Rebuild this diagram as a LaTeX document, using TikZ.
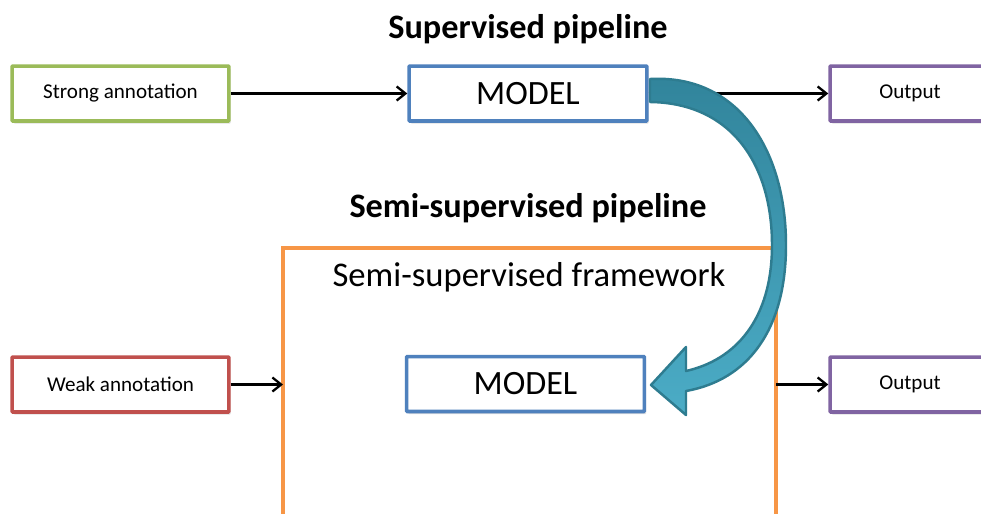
\documentclass[tikz,border=0pt]{standalone}
\usepackage{fontspec}
\setmainfont{Carlito}
\usetikzlibrary{arrows.meta,shadows}
\definecolor{cgreen}{HTML}{9BBB59}
\definecolor{cblue}{HTML}{4F81BD}
\definecolor{cpurple}{HTML}{8064A2}
\definecolor{cred}{HTML}{C0504D}
\definecolor{corange}{HTML}{F79646}
\definecolor{tealdark}{HTML}{31849B}
\definecolor{teallight}{HTML}{4BACC6}
\definecolor{tealedge}{HTML}{2E7C90}
\tikzset{
  px/.style={x=0.02cm,y=-0.02cm},
  box/.style={draw, line width=2pt, fill=white, text=black, rounded corners=0.5pt, inner sep=0pt,
    drop shadow={shadow xshift=1pt,shadow yshift=-1.5pt,opacity=0.25}},
  smallbox/.style={box, minimum width=4.34cm, minimum height=1.1cm, font=\fontsize{12pt}{14pt}\selectfont},
  modelbox/.style={box, draw=cblue, minimum width=4.76cm, minimum height=1.1cm, font=\fontsize{19.4pt}{22pt}\selectfont},
  outbox/.style={box, draw=cpurple, minimum width=3.2cm, minimum height=1.1cm, font=\fontsize{12pt}{14pt}\selectfont},
  title/.style={font=\bfseries\fontsize{19.5pt}{22pt}\selectfont},
  conn/.style={-{Straight Barb[length=5pt,width=8pt,line width=1.3pt]}, line width=1.8pt, black},
}
\begin{document}
\begin{tikzpicture}[px]
\useasboundingbox (0,0) rectangle (981,514);
\clip (0,0) rectangle (981,514);
\fill[white] (0,0) rectangle (981,514);

% titles
\node[title] (t1) at (528,29) {Supervised pipeline};
\node[title] (t2) at (528,208) {Semi-supervised pipeline};

% top row
\node[smallbox, draw=cgreen] (strong) at (120.5,93.5) {Strong annotation};
\node[modelbox] (m1) at (528,93.5) {MODEL};
\node[outbox] (o1) at (910,93.5) {Output};
\draw[conn] (strong.east) -- (m1.west);
\draw[conn] (m1.east) -- (o1.west);

% framework
\coordinate (fbl) at (283,520);
\coordinate (ftl) at (283,248);
\coordinate (ftr) at (776,248);
\coordinate (fbr) at (776,520);
\draw[corange, line width=2pt] (fbl) -- (ftl) -- (ftr) -- (fbr);
\node[font=\fontsize{19.7pt}{22pt}\selectfont] (fl) at (529,277) {Semi-supervised framework};
\coordinate (fin) at (283,384.5);
\coordinate (fout) at (776,384.5);

% bottom row
\node[smallbox, draw=cred] (weak) at (120.5,384.5) {Weak annotation};
\node[modelbox] (m2) at (525.5,384) {MODEL};
\node[outbox] (o2) at (910,384.5) {Output};
\draw[conn] (weak.east) -- (fin);
\draw[conn] (fout) -- (o2.west);

% curved block arrow
\shade[top color=tealdark, bottom color=teallight, draw=tealedge, line width=1.4pt, line join=round]
  (650,79) .. controls (738,74) and (786,150) .. (786,245)
  .. controls (786,330) and (748,380) .. (686,391)
  -- (686,415) -- (651,385) -- (686,347) -- (686,371)
  .. controls (735,360) and (772,320) .. (772,245)
  .. controls (772,165) and (732,103) .. (650,102) -- cycle;
\end{tikzpicture}
\end{document}
